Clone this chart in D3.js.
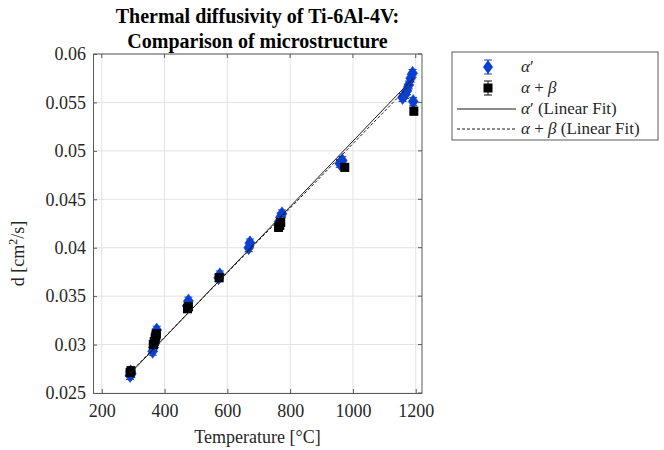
<!DOCTYPE html>
<html>
<head>
    <meta charset="utf-8" />
    <title>Thermal diffusivity of Ti-6Al-4V</title>
    <style>
        body { margin: 0; background: #fff; }
        text { font-family: "Liberation Serif", "DejaVu Serif", serif; fill: #262626; }
        .grid line { stroke: #e3e3e3; stroke-width: 1px; }
        .axis path, .axis line { stroke: #5a5a5a; }
        .fit { fill: none; stroke: #1a1a1a; stroke-width: 1px; }
    </style>
    <script type="text/javascript" src="https://d3js.org/d3.v7.min.js"></script>
</head>
<body>
    <script type="text/javascript">
        // alpha' (martensite) measurements: temperature [C], diffusivity [cm2/s], error
        const alphaT   = [290, 292, 294, 362, 365, 368, 370, 372, 375, 472, 476, 572, 576, 668, 672, 765, 770, 774, 958, 966, 1158, 1166, 1172, 1178, 1184, 1190, 1192];
        const alphaD   = [0.0268, 0.0272, 0.0270, 0.0293, 0.0297, 0.0301, 0.0305, 0.0311, 0.0315, 0.0340, 0.0345, 0.0369, 0.0372, 0.0400, 0.0405, 0.0427, 0.0432, 0.0435, 0.0487, 0.0490, 0.0555, 0.0558, 0.0562, 0.0568, 0.0575, 0.0580, 0.0551];
        const alphaErr = [0.0004, 0.0004, 0.0004, 0.0004, 0.0004, 0.0004, 0.0004, 0.0005, 0.0004, 0.0004, 0.0004, 0.0004, 0.0004, 0.0004, 0.0004, 0.0004, 0.0004, 0.0004, 0.0004, 0.0004, 0.0004, 0.0004, 0.0004, 0.0004, 0.0004, 0.0004, 0.0004];

        // alpha + beta measurements
        const abT   = [290, 293, 364, 367, 370, 372, 374, 473, 476, 574, 763, 767, 770, 974, 1194];
        const abD   = [0.0271, 0.0273, 0.0300, 0.0303, 0.0306, 0.0309, 0.0311, 0.0337, 0.0339, 0.0369, 0.0421, 0.0423, 0.0426, 0.0483, 0.0541];
        const abErr = [0.0004, 0.0004, 0.0004, 0.0004, 0.0004, 0.0005, 0.0004, 0.0004, 0.0004, 0.0004, 0.0004, 0.0004, 0.0004, 0.0004, 0.0004];

        // linear fit end points
        const alphaFitT = [290, 1192];
        const alphaFitD = [0.0270, 0.0575];
        const abFitT = [290, 1194];
        const abFitD = [0.0271, 0.0572];

        const xTicks = [200, 400, 600, 800, 1000, 1200];
        const yTicks = [0.025, 0.03, 0.035, 0.04, 0.045, 0.05, 0.055, 0.06];

        // set the dimensions and margins of the graph
        const margin = { top: 54, right: 242, bottom: 57, left: 93 };
        let width = 664 - margin.left - margin.right,
            height = 450 - margin.top - margin.bottom;

        let x = d3.scaleLinear().domain([172, 1220]).range([0, width]);
        let y = d3.scaleLinear().domain([0.025, 0.06]).range([height, 0]);

        let svg = d3.select('body')
            .append('svg')
                .attr('width', 664)
                .attr('height', 450)
            .append('g')
                .attr('transform', 'translate(' + margin.left + ', ' + margin.top + ')');

        let alphaData = alphaT.map((t, i) => ({ t: t, d: alphaD[i], e: alphaErr[i] }));
        let abData = abT.map((t, i) => ({ t: t, d: abD[i], e: abErr[i] }));

        // grid lines
        svg.append('g')
            .attr('class', 'grid')
            .selectAll('line')
            .data(xTicks)
            .enter().append('line')
                .attr('x1', d => x(d)).attr('x2', d => x(d))
                .attr('y1', 0).attr('y2', height);
        svg.append('g')
            .attr('class', 'grid')
            .selectAll('line')
            .data(yTicks)
            .enter().append('line')
                .attr('x1', 0).attr('x2', width)
                .attr('y1', d => y(d)).attr('y2', d => y(d));

        // diamond marker, taller than wide like matlab
        function diamond(cx, cy, w, h) {
            return 'M' + cx + ',' + (cy - h) + 'L' + (cx + w) + ',' + cy + 'L' + cx + ',' + (cy + h) + 'L' + (cx - w) + ',' + cy + 'Z';
        }

        function errorBars(data, colour) {
            let g = svg.append('g').attr('stroke', colour).attr('stroke-width', 1);
            g.selectAll('.eb')
                .data(data)
                .enter().append('path')
                    .attr('fill', 'none')
                    .attr('d', d => {
                        let cx = x(d.t), y0 = y(d.d - d.e), y1 = y(d.d + d.e);
                        return 'M' + cx + ',' + y0 + 'V' + y1 +
                            'M' + (cx - 4) + ',' + y0 + 'H' + (cx + 4) +
                            'M' + (cx - 4) + ',' + y1 + 'H' + (cx + 4);
                    });
        }

        // Add the alpha' points
        errorBars(alphaData, '#1a3fb8');
        svg.append('g')
            .selectAll('path')
            .data(alphaData)
            .enter().append('path')
                .attr('d', d => diamond(x(d.t), y(d.d), 5, 7))
                .attr('fill', '#0a40d2')
                .attr('stroke', '#0a40d2')
                .attr('stroke-width', 0.5);

        // Add the alpha + beta points
        errorBars(abData, '#111');
        svg.append('g')
            .selectAll('rect')
            .data(abData)
            .enter().append('rect')
                .attr('x', d => x(d.t) - 4.5)
                .attr('y', d => y(d.d) - 4.5)
                .attr('width', 9)
                .attr('height', 9)
                .attr('fill', '#000');

        // Add the fit lines
        let fitLine = d3.line().x(d => x(d[0])).y(d => y(d[1]));
        svg.append('path')
            .datum(alphaFitT.map((t, i) => [t, alphaFitD[i]]))
            .attr('class', 'fit')
            .attr('d', fitLine);
        svg.append('path')
            .datum(abFitT.map((t, i) => [t, abFitD[i]]))
            .attr('class', 'fit')
            .attr('stroke-dasharray', '3,2')
            .attr('d', fitLine);

        // Add the x Axis
        let xAxis = svg.append('g')
            .attr('class', 'axis')
            .attr('transform', 'translate(0, ' + height + ')')
            .call(d3.axisBottom(x).tickValues(xTicks).tickFormat(d3.format('d')).tickSizeInner(-4).tickSizeOuter(0).tickPadding(11));
        xAxis.selectAll('text').style('font-size', '18px');

        // Add the y-axis
        let yAxis = svg.append('g')
            .attr('class', 'axis')
            .call(d3.axisLeft(y).tickValues(yTicks).tickFormat(d3.format('')).tickSizeInner(-4).tickSizeOuter(0).tickPadding(7));
        yAxis.selectAll('text').style('font-size', '18px');

        // box on top and right
        svg.append('path')
            .attr('d', 'M0,0H' + width + 'V' + height)
            .attr('fill', 'none')
            .attr('stroke', '#5a5a5a');
        svg.append('g')
            .selectAll('line')
            .data(yTicks)
            .enter().append('line')
                .attr('x1', width).attr('x2', width - 4)
                .attr('y1', d => y(d)).attr('y2', d => y(d))
                .attr('stroke', '#5a5a5a');
        svg.append('g')
            .selectAll('line')
            .data(xTicks)
            .enter().append('line')
                .attr('x1', d => x(d)).attr('x2', d => x(d))
                .attr('y1', 0).attr('y2', 4)
                .attr('stroke', '#5a5a5a');

        // title
        svg.append('text')
            .attr('x', width / 2).attr('y', -31)
            .attr('text-anchor', 'middle')
            .style('font-size', '20px').style('font-weight', 'bold').style('fill', '#000')
            .text('Thermal diffusivity of Ti-6Al-4V:');
        svg.append('text')
            .attr('x', width / 2).attr('y', -6)
            .attr('text-anchor', 'middle')
            .style('font-size', '20px').style('font-weight', 'bold').style('fill', '#000')
            .text('Comparison of microstructure');

        // text label for the x-axis
        svg.append('text')
            .attr('x', width / 2).attr('y', height + 50)
            .attr('text-anchor', 'middle')
            .style('font-size', '18px')
            .text('Temperature [°C]');

        // text label for the y-axis
        let yLab = svg.append('text')
            .attr('transform', 'translate(-69, ' + (height / 2 + 30) + ') rotate(-90)')
            .attr('text-anchor', 'middle')
            .style('font-size', '18px');
        yLab.append('tspan').text('d [cm');
        yLab.append('tspan').attr('dy', -7).style('font-size', '12px').text('2');
        yLab.append('tspan').attr('dy', 7).text('/s]');

        // legend
        let legend = d3.select('svg').append('g')
            .attr('transform', 'translate(452, 52)');
        legend.append('rect')
            .attr('width', 206).attr('height', 88)
            .attr('fill', '#fff').attr('stroke', '#5a5a5a');

        let legendRows = [
            { kind: 'diamond', label: [['α', true], ['′', false]] },
            { kind: 'square', label: [['α', true], [' + ', false], ['β', true]] },
            { kind: 'solid', label: [['α', true], ['′ (Linear Fit)', false]] },
            { kind: 'dashed', label: [['α', true], [' + ', false], ['β', true], [' (Linear Fit)', false]] }
        ];
        let rowY = [15, 36, 57, 77];

        legendRows.forEach((r, i) => {
            let cy = rowY[i];
            if (r.kind === 'diamond') {
                legend.append('path')
                    .attr('d', 'M36,' + (cy - 7) + 'V' + (cy + 7) + 'M32,' + (cy - 7) + 'H40M32,' + (cy + 7) + 'H40')
                    .attr('stroke', '#1a3fb8');
                legend.append('path')
                    .attr('d', diamond(36, cy, 5, 7))
                    .attr('fill', '#0a40d2');
            } else if (r.kind === 'square') {
                legend.append('path')
                    .attr('d', 'M36,' + (cy - 7) + 'V' + (cy + 7) + 'M32,' + (cy - 7) + 'H40M32,' + (cy + 7) + 'H40')
                    .attr('stroke', '#111');
                legend.append('rect')
                    .attr('x', 31.5).attr('y', cy - 4.5)
                    .attr('width', 9).attr('height', 9)
                    .attr('fill', '#000');
            } else {
                legend.append('line')
                    .attr('x1', 5).attr('x2', 64)
                    .attr('y1', cy).attr('y2', cy)
                    .attr('class', 'fit')
                    .attr('stroke-dasharray', r.kind === 'dashed' ? '3,2' : null);
            }
            let t = legend.append('text')
                .attr('x', 69).attr('y', cy + 5)
                .style('font-size', '17px');
            r.label.forEach(p => {
                t.append('tspan')
                    .style('font-style', p[1] ? 'italic' : 'normal')
                    .text(p[0]);
            });
        });
    </script>
</body>
</html>
